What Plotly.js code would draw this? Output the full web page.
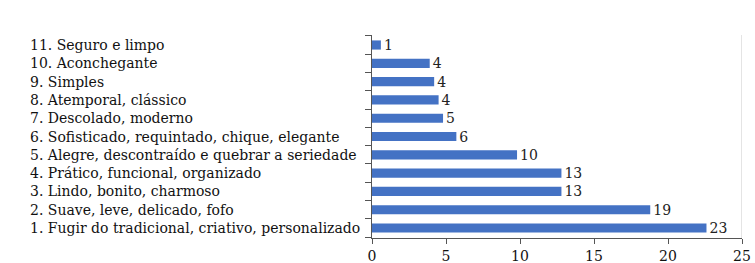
<!DOCTYPE html>
<html>
<head>
<meta charset="utf-8">
<script src="https://cdn.plot.ly/plotly-3.0.1.min.js"></script>
<style>html,body{margin:0;padding:0;background:#fff;}#chart{width:755px;height:263px;}</style>
</head>
<body>
<div id="chart"></div>
<script>
const categories = [
  "1. Fugir do tradicional, criativo, personalizado",
  "2. Suave, leve, delicado, fofo",
  "3. Lindo, bonito, charmoso",
  "4. Prático, funcional, organizado",
  "5. Alegre, descontraído e quebrar a seriedade",
  "6. Sofisticado, requintado, chique, elegante",
  "7. Descolado, moderno",
  "8. Atemporal, clássico",
  "9. Simples",
  "10. Aconchegante",
  "11. Seguro e limpo"
];
const barLengths = [22.6, 18.8, 12.8, 12.8, 9.8, 5.7, 4.8, 4.5, 4.2, 3.9, 0.6];
const valueLabels = ["23", "19", "13", "13", "10", "6", "5", "4", "4", "4", "1"];
const xTicks = [0, 5, 10, 15, 20, 25];

const serif = "DejaVu Serif";

const trace = {
  type: "bar",
  orientation: "h",
  x: barLengths,
  y: categories,
  text: valueLabels,
  textposition: "outside",
  constraintext: "none",
  cliponaxis: false,
  textfont: {family: serif, size: 14, color: "#222"},
  marker: {color: "#4472C4"},
  hoverinfo: "none"
};

const annotations = categories.map(c => ({
  xref: "paper", yref: "y",
  x: -0.93, y: c,
  xanchor: "left", yanchor: "middle",
  text: c, showarrow: false,
  font: {family: serif, size: 14, color: "#111"}
}));

const layout = {
  width: 755, height: 263,
  font: {family: serif},
  margin: {l: 372, r: 13, t: 35, b: 25},
  paper_bgcolor: "#fff", plot_bgcolor: "#fff",
  showlegend: false,
  bargap: 0.5,
  xaxis: {
    range: [0, 25], tickvals: xTicks, ticktext: xTicks.map(String),
    showgrid: false, zeroline: false,
    showline: true, linecolor: "#555", linewidth: 1,
    ticks: "outside", ticklen: 5, tickcolor: "#555",
    tickfont: {family: serif, size: 14, color: "#111"}
  },
  yaxis: {
    type: "category",
    showgrid: false, zeroline: false,
    showline: true, linecolor: "#555", linewidth: 1,
    ticks: "outside", ticklen: 6, tickcolor: "#555",
    tickson: "boundaries",
    showticklabels: false
  },
  shapes: [{
    type: "line", xref: "x", yref: "paper",
    x0: 25, x1: 25, y0: 0, y1: 1,
    line: {color: "#c8c8c8", width: 1}
  }],
  annotations: annotations
};

Plotly.newPlot("chart", [trace], layout, {staticPlot: true, displayModeBar: false});
</script>
</body>
</html>
